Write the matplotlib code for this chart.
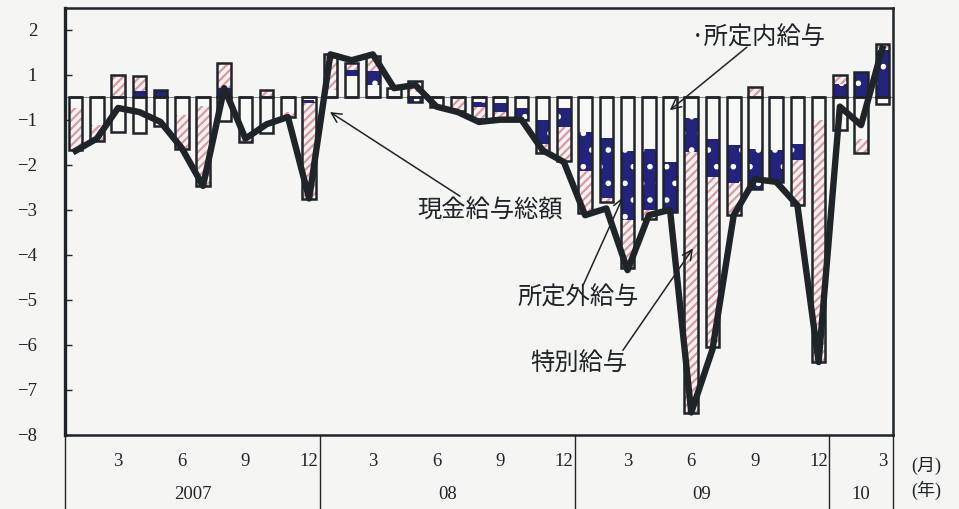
import numpy as np
import matplotlib.pyplot as plt
from matplotlib.transforms import blended_transform_factory

plt.rcParams['font.family'] = ['Liberation Serif', 'Noto Sans CJK JP']
plt.rcParams['hatch.linewidth'] = 1.6

# monthly index: Jan 2007 .. Mar 2010 (39 months), change from previous year (%)
months = np.arange(39)

# 所定内給与 (scheduled earnings) contribution
shoteinai = [-0.25, -0.62, -0.77, -0.80, -0.64, -0.40, -0.20, -0.53, -0.95, -0.80, -0.33, -0.06,
             0.17, 0.48, 0.26, 0.15, 0.12, -0.22, -0.05, -0.10, -0.12, -0.25, -0.51, -0.25,
             -0.77, -0.90, -1.20, -1.14, -1.44, -0.47, -0.92, -1.06, -1.15, -1.18, -1.03, -0.51,
             -0.72, -0.93, -0.15]
# 所定外給与 (non-scheduled earnings) contribution
shoteigai = [0.0, 0.0, 0.0, 0.14, 0.15, 0.0, 0.0, 0.20, 0.0, 0.0, 0.0, -0.07,
             0.0, 0.13, 0.33, 0.0, -0.10, 0.0, 0.0, -0.12, -0.22, -0.25, -0.52, -0.42,
             -0.86, -1.33, -1.52, -1.37, -1.10, -0.74, -0.85, -0.85, -0.89, -0.70, -0.37, 0.0,
             0.30, 0.56, 1.04]
# 特別給与 (special earnings) contribution
tokubetsu = [-0.92, -0.35, 0.50, 0.32, 0.0, -0.74, -1.77, 0.55, -0.05, 0.17, -0.12, -2.12,
             0.78, 0.15, 0.33, 0.05, 0.24, 0.0, -0.25, -0.27, -0.15, 0.0, -0.22, -0.75,
             -0.95, -0.10, -1.08, -0.19, 0.0, -5.80, -3.78, -0.70, 0.22, 0.0, -1.00, -5.37,
             0.20, -0.30, 0.13]
# 現金給与総額 (total cash earnings)
genkin = [-1.19, -0.92, -0.24, -0.33, -0.55, -1.13, -1.97, 0.20, -0.92, -0.60, -0.44, -2.25,
          0.95, 0.82, 0.95, 0.20, 0.27, -0.21, -0.33, -0.55, -0.50, -0.50, -1.18, -1.44,
          -2.62, -2.47, -3.84, -2.62, -2.50, -7.00, -5.60, -2.62, -1.82, -1.88, -2.40, -5.88,
          -0.21, -0.62, 1.08]

ytick_pos = [1.5, 0.5, -0.5, -1.5, -2.5, -3.5, -4.5, -5.5, -6.5, -7.5]
ytick_labels = ['2', '1', '\u22121', '\u22122', '\u22123', '\u22124', '\u22125',
                '\u22126', '\u22127', '\u22128']
month_ticks = [2, 5, 8, 11, 14, 17, 20, 23, 26, 29, 32, 35, 38]
month_labels = ['3', '6', '9', '12', '3', '6', '9', '12', '3', '6', '9', '12', '3']
year_bounds = [-0.5, 11.5, 23.5, 35.5, 38.5]
year_labels = ['2007', '08', '09', '10']

paper = '#f5f5f3'
ink = '#1f2428'
jp = ['Noto Sans CJK JP']

fig = plt.figure(figsize=(9.59, 5.09), dpi=100, facecolor=paper)
ax = fig.add_axes([0.0678, 0.1454, 0.8633, 0.8389])
ax.set_facecolor(paper)

w = 0.64
styles = [
    dict(color='#f8f8f6', edgecolor='#f8f8f6'),
    dict(color='#23237e', hatch='.', edgecolor='white'),
    dict(color='#fbf3f3', hatch='////', edgecolor='#d69ba4'),
]
pos_bottom = np.zeros(len(months))
neg_bottom = np.zeros(len(months))
for vals, st in zip([shoteinai, shoteigai, tokubetsu], styles):
    v = np.array(vals)
    bottom = np.where(v >= 0, pos_bottom, neg_bottom)
    ax.bar(months, v, bottom=bottom, width=w, linewidth=0, zorder=2, **st)
    pos_bottom += np.clip(v, 0, None)
    neg_bottom += np.clip(v, None, 0)

# outlines of the stacked boxes
ax.bar(months, pos_bottom, width=w, fill=False, edgecolor=ink, linewidth=1.8, zorder=3)
ax.bar(months, neg_bottom, width=w, fill=False, edgecolor=ink, linewidth=1.8, zorder=3)

ax.axhline(0, color='#8a8a8a', lw=0.8, zorder=1)
ax.plot(months, genkin, color=ink, lw=4.6, solid_joinstyle='round', zorder=4)

ax.set_xlim(-0.5, 38.5)
ax.set_ylim(-7.5, 1.98)
ax.set_xticks([])
ax.set_yticks(ytick_pos)
ax.set_yticklabels(ytick_labels, fontsize=13.5)
ax.tick_params(axis='y', direction='in', length=5, width=1, pad=20, colors=ink)
for s in ax.spines.values():
    s.set_color(ink)
    s.set_linewidth(1.8)
ax.spines['left'].set_linewidth(2.4)

# table-like x axis under the plot
tr = blended_transform_factory(ax.transData, ax.transAxes)
for b in year_bounds:
    ax.plot([b, b], [0, -0.2], transform=tr, color=ink, lw=1.0, clip_on=False)
for m, lab in zip(month_ticks, month_labels):
    ax.text(m, -0.063, lab, transform=tr, ha='center', va='center', fontsize=13.5, color=ink)
for i, lab in enumerate(year_labels):
    cx = (year_bounds[i] + year_bounds[i + 1]) / 2
    ax.text(cx, -0.14, lab, transform=tr, ha='center', va='center', fontsize=13.5, color=ink)
ax.text(1.022, -0.073, '(月)', transform=ax.transAxes, ha='left', va='center',
        fontsize=13, color=ink, family=['Liberation Serif', 'Noto Sans CJK JP'])
ax.text(1.022, -0.13, '(年)', transform=ax.transAxes, ha='left', va='center',
        fontsize=13, color=ink, family=['Liberation Serif', 'Noto Sans CJK JP'])

# labels with arrows
arrow = dict(arrowstyle='->,head_length=0.7,head_width=0.35', lw=1.1, color=ink,
             shrinkA=0, shrinkB=0)
ax.text(29.0, 1.33, '·所定内給与', family=jp, fontsize=17.5, ha='left', va='center', color=ink)
ax.annotate('', xy=(27.99, -0.29), xytext=(31.62, 1.11), arrowprops=arrow, zorder=5)
ax.text(16.1, -2.51, '現金給与総額', family=jp, fontsize=17.5, ha='left', va='center', color=ink)
ax.annotate('', xy=(11.98, -0.33), xytext=(18.11, -2.2), arrowprops=arrow, zorder=5)
ax.text(20.8, -4.44, '所定外給与', family=jp, fontsize=17.5, ha='left', va='center', color=ink)
ax.annotate('', xy=(25.78, -2.22), xytext=(23.9, -4.18), arrowprops=arrow, zorder=5)
ax.text(21.4, -5.89, '特別給与', family=jp, fontsize=17.5, ha='left', va='center', color=ink)
ax.annotate('', xy=(29.08, -3.36), xytext=(25.78, -5.62), arrowprops=arrow, zorder=5)

fig.savefig('out.png', dpi=100, facecolor=paper)
